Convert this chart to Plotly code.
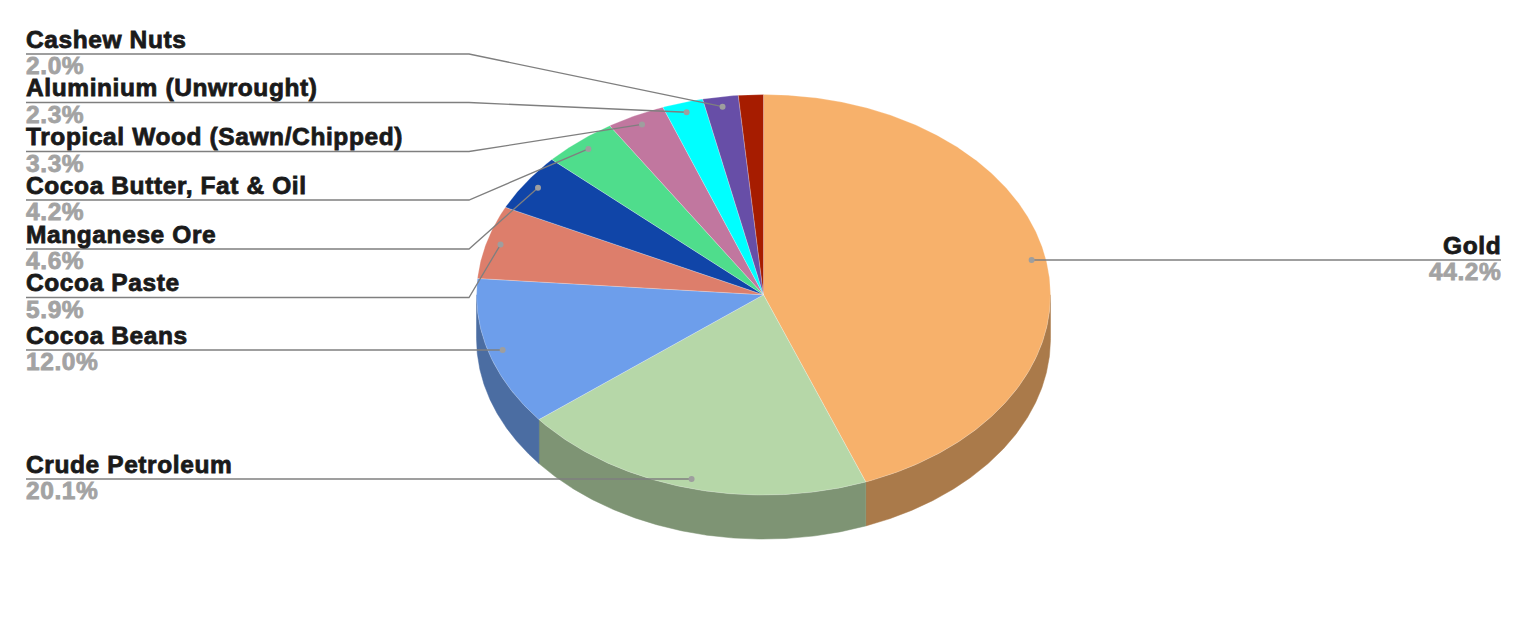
import numpy as np
import plotly.graph_objects as go

# ---- data (clockwise from 12 o'clock) ----
categories = ["Gold", "Crude Petroleum", "Cocoa Beans", "Cocoa Paste", "Manganese Ore",
              "Cocoa Butter, Fat & Oil", "Tropical Wood (Sawn/Chipped)",
              "Aluminium (Unwrought)", "Cashew Nuts", "Other"]
shares = [44.2, 20.1, 12.0, 5.9, 4.6, 4.2, 3.3, 2.3, 2.0, 1.4]
percent_labels = ["44.2%", "20.1%", "12.0%", "5.9%", "4.6%", "4.2%", "3.3%", "2.3%", "2.0%", None]
colors = ["#f7b16b", "#b6d7a8", "#6d9eeb", "#dd7e6b", "#1045a8",
          "#4fdd8c", "#c1779f", "#00ffff", "#674ea7", "#a61c00"]

# ---- geometry of the tilted pie ----
CX, CY, RX, RY, DEPTH = 763.5, 294.8, 287.0, 200.3, 44.0
ANCHOR_R = 0.95
LABEL_LEFT, LABEL_RIGHT, ELBOW_X = 26, 1501, 469
line_y = {"Gold": 260, "Crude Petroleum": 479, "Cocoa Beans": 350, "Cocoa Paste": 297.5,
          "Manganese Ore": 249, "Cocoa Butter, Fat & Oil": 200,
          "Tropical Wood (Sawn/Chipped)": 151.5, "Aluminium (Unwrought)": 102.5,
          "Cashew Nuts": 54}
FONT = "Liberation Sans"
NAME_SIZE = 24.5


def dim(hex_color, k=0.69):
    r, g, b = (int(hex_color[i:i + 2], 16) for i in (1, 3, 5))
    return f"rgb({r * k:.0f},{g * k:.0f},{b * k:.0f})"


def pt(theta, r=1.0, dz=0.0):
    return CX + RX * r * np.sin(theta), CY - RY * r * np.cos(theta) + dz


def heavy(text, color):
    return (f'<span style="letter-spacing:0.6px;stroke:{color};stroke-width:0.8px">'
            f'{text}</span>')


total = sum(shares)
edges = np.cumsum([0] + shares) / total * 2 * np.pi
fig = go.Figure()

# side walls: only the front half (90deg..270deg) is visible
for i, c in enumerate(colors):
    a, b = max(edges[i], np.pi / 2), min(edges[i + 1], 3 * np.pi / 2)
    if b <= a:
        continue
    t = np.linspace(a, b, 160)
    x1, y1 = pt(t)
    x2, y2 = pt(t[::-1], dz=DEPTH)
    fig.add_trace(go.Scatter(x=np.r_[x1, x2, x1[0]], y=np.r_[y1, y2, y1[0]], mode="lines",
                             fill="toself", fillcolor=dim(c),
                             line=dict(width=0.5, color=dim(c)), hoverinfo="skip"))

# top faces
for i, c in enumerate(colors):
    t = np.linspace(edges[i], edges[i + 1], max(8, int(shares[i] * 8)))
    x, y = pt(t)
    fig.add_trace(go.Scatter(x=np.r_[CX, x, CX], y=np.r_[CY, y, CY], mode="lines",
                             fill="toself", fillcolor=c,
                             line=dict(width=0.6, color="rgba(255,255,255,0.4)"),
                             hovertext=categories[i], hoverinfo="text"))

# leader lines, dots and labels
ann = []
for i, name in enumerate(categories):
    if name not in line_y:
        continue
    mid = (edges[i] + edges[i + 1]) / 2
    ax, ay = pt(mid, ANCHOR_R)
    ly = line_y[name]
    if mid < np.pi:
        ay = ly
        xs, ys = [LABEL_RIGHT, ax], [ly, ly]
        tx, anchor, shift = LABEL_RIGHT, "right", 2
    elif abs(ay - ly) < 3:
        ay = ly
        xs, ys = [LABEL_LEFT, ax], [ly, ly]
        tx, anchor, shift = LABEL_LEFT, "left", -2
    else:
        xs, ys = [LABEL_LEFT, ELBOW_X, ax], [ly, ly, ay]
        tx, anchor, shift = LABEL_LEFT, "left", -2
    fig.add_trace(go.Scatter(x=xs, y=ys, mode="lines", line=dict(color="#7f7f7f", width=1.3),
                             hoverinfo="skip"))
    fig.add_trace(go.Scatter(x=[ax], y=[ay], mode="markers",
                             marker=dict(color="#9e9e9e", size=6), hoverinfo="skip"))
    ann.append(dict(x=tx, y=ly - 14.7, text=heavy(name, "#1a1a1a"), xanchor=anchor, xshift=shift,
                    yanchor="middle", showarrow=False,
                    font=dict(family=FONT, size=NAME_SIZE, color="#1a1a1a", weight="bold")))
    ann.append(dict(x=tx, y=ly + 11.5, text=heavy(percent_labels[i], "#a3a3a3"), xanchor=anchor,
                    xshift=shift, yanchor="middle", showarrow=False,
                    font=dict(family=FONT, size=NAME_SIZE, color="#a3a3a3", weight="bold")))

fig.update_layout(
    width=1522, height=625, autosize=False, showlegend=False,
    margin=dict(l=0, r=0, t=0, b=0), paper_bgcolor="white", plot_bgcolor="white",
    xaxis=dict(range=[0, 1522], visible=False, fixedrange=True),
    yaxis=dict(range=[625, 0], visible=False, fixedrange=True),
    annotations=ann,
)
fig.write_html("out.html", config={"displayModeBar": False},
               post_script="document.body.style.margin='0';document.body.style.overflow='hidden';")
